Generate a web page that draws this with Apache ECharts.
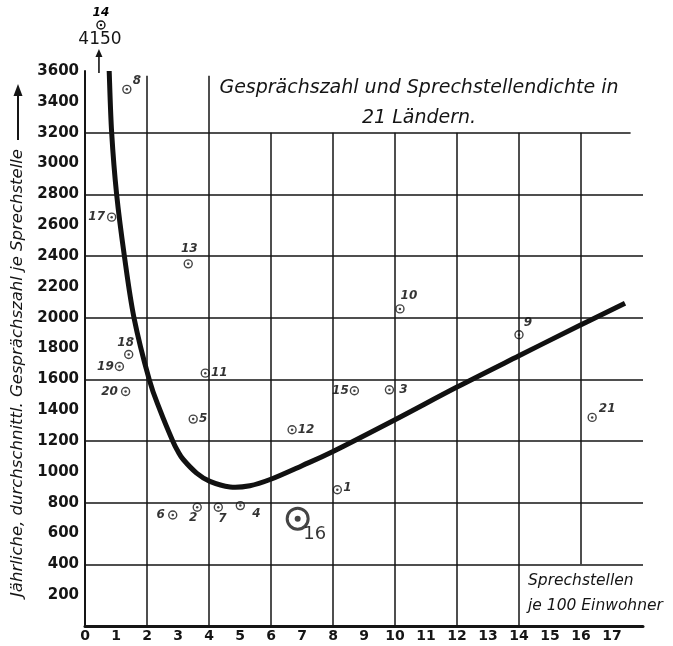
<!DOCTYPE html>
<html>
<head>
<meta charset="utf-8">
<script src="https://cdn.jsdelivr.net/npm/echarts@6/dist/echarts.min.js"></script>
<style>
html, body { margin: 0; padding: 0; background: #fff; }
#main { width: 673px; height: 646px; }
</style>
</head>
<body>
<div id="main"></div>
<script>
// Land-Nr., Sprechstellen je 100 Einwohner, jährl. Gespräche je Sprechstelle
var landNr     = [1, 2, 3, 4, 5, 6, 7, 8, 9, 10, 11, 12, 13, 15, 16, 17, 18, 19, 20, 21];
var dichte     = [8.14, 3.62, 9.82, 5.01, 3.49, 2.83, 4.3, 1.35, 14, 10.16, 3.88, 6.68, 3.33, 8.69, 6.86, 0.86, 1.41, 1.11, 1.31, 16.36];
var gespraeche = [884, 770, 1532, 781, 1342, 720, 770, 3481, 1889, 2057, 1640, 1273, 2349, 1526, 696, 2652, 1761, 1683, 1521, 1353];

// Land 14 liegt oberhalb der Skala (4150)
var aussenNr = [14];
var aussenX  = [0.45];
var aussenY  = [4150];

// Ausgleichskurve
var kurveX = [0.78, 0.86, 1.02, 1.27, 1.58, 2.07, 2.42, 2.83, 3.0, 3.17, 3.6, 4.03, 4.68, 5.32, 5.97, 7, 8, 10, 12, 14, 16, 17.42];
var kurveY = [3600, 3200, 2800, 2400, 2000, 1600, 1400, 1200, 1132, 1080, 992, 938, 902, 910, 950, 1040, 1132, 1338, 1550, 1753, 1954, 2094];

// Achsen
var xMin = 0, xMax = 18, xStep = 1;
var yMin = 0, yMax = 3600, yStep = 200;
var hLinien = [400, 800, 1200, 1600, 2000, 2400, 2800, 3200];
var vLinien = [2, 4, 6, 8, 10, 12, 14, 16];

var INK = '#151515';

// wo die Nummer neben dem Kreis steht
var labelOffset = {
    1: [10, -2], 2: [-4, 11], 3: [14, 0], 4: [16, 8], 5: [10, 0], 6: [-12, 0], 7: [4, 12],
    8: [10, -8], 9: [9, -12], 10: [9, -13], 11: [14, 0], 12: [14, 0], 13: [1, -15],
    15: [-14, 0], 16: [17, 16], 17: [-15, 0], 18: [-3, -12], 19: [-14, 0], 20: [-16, 0], 21: [15, -9]
};

var chart = echarts.init(document.getElementById('main'));

var kreise = [], punkte = [];
for (var i = 0; i < landNr.length; i++) {
    var gross = landNr[i] === 16;
    kreise.push({
        name: String(landNr[i]),
        value: [dichte[i], gespraeche[i]],
        symbolSize: gross ? 21 : 8,
        itemStyle: { borderWidth: gross ? 3 : 1.4 },
        label: {
            offset: labelOffset[landNr[i]],
            fontSize: gross ? 18 : 12,
            fontStyle: gross ? 'normal' : 'italic',
            fontWeight: gross ? 'normal' : 'bold'
        }
    });
    punkte.push({ value: [dichte[i], gespraeche[i]], symbolSize: gross ? 6 : 2.5 });
}

var kurve = kurveX.map(function (x, i) { return [x, kurveY[i]]; });

// glatte Kurve (Catmull-Rom) durch die Stützpunkte, in Pixeln
function kurvenPfad(pts) {
    var d = 'M' + pts[0][0] + ' ' + pts[0][1];
    for (var k = 0; k < pts.length - 1; k++) {
        var p0 = pts[k - 1] || pts[k], p1 = pts[k], p2 = pts[k + 1], p3 = pts[k + 2] || p2;
        var c1x = p1[0] + (p2[0] - p0[0]) / 6, c1y = p1[1] + (p2[1] - p0[1]) / 6;
        var c2x = p2[0] - (p3[0] - p1[0]) / 6, c2y = p2[1] - (p3[1] - p1[1]) / 6;
        d += ' C' + c1x + ' ' + c1y + ' ' + c2x + ' ' + c2y + ' ' + p2[0] + ' ' + p2[1];
    }
    return d;
}

// Gitterlinien
var gitter = [];
hLinien.forEach(function (y) {
    gitter.push([{ coord: [xMin, y] }, { coord: [y === 3200 ? 17.6 : xMax, y] }]);
});
vLinien.forEach(function (x) {
    var von = x === 16 ? 400 : 0;
    var bis = x <= 4 ? 3570 : 3200;
    gitter.push([{ coord: [x, von] }, { coord: [x, bis] }]);
});

var option = {
    backgroundColor: '#fff',
    animation: false,
    grid: { left: 85, right: 30, top: 71, bottom: 20 },
    xAxis: {
        type: 'value', min: xMin, max: xMax, interval: xStep,
        axisLine: { show: true, lineStyle: { color: INK, width: 3 } },
        axisTick: { show: false },
        splitLine: { show: false },
        axisLabel: {
            color: INK, fontSize: 14, fontWeight: 'bold', fontFamily: 'DejaVu Sans', margin: 3,
            formatter: function (v) { return v === xMax ? '' : v; }
        }
    },
    yAxis: {
        type: 'value', min: yMin, max: yMax, interval: yStep,
        axisLine: { show: true, lineStyle: { color: INK, width: 2 } },
        axisTick: { show: false },
        splitLine: { show: false },
        axisLabel: {
            color: INK, fontSize: 15, fontWeight: 'bold', fontFamily: 'DejaVu Sans', margin: 6,
            formatter: function (v) { return v === 0 ? '' : v; }
        }
    },
    series: [
        {
            type: 'line', data: [], silent: true,
            markLine: {
                silent: true, symbol: ['none', 'none'], label: { show: false },
                lineStyle: { color: INK, width: 1.5, type: 'solid' },
                data: gitter
            }
        },
        {
            // Ausgleichskurve
            type: 'custom', z: 3, silent: true,
            data: [kurve[0]],
            renderItem: function (params, api) {
                var pts = kurve.map(function (p) { return api.coord(p); });
                return {
                    type: 'path',
                    shape: { pathData: kurvenPfad(pts) },
                    style: { fill: 'none', stroke: '#111', lineWidth: 5, lineCap: 'butt', lineJoin: 'round' }
                };
            }
        },
        {
            type: 'scatter', data: kreise, symbol: 'circle', z: 4,
            itemStyle: { color: '#fff', borderColor: INK },
            label: {
                show: true, position: 'inside', color: '#000', fontFamily: 'DejaVu Sans',
                formatter: '{b}'
            }
        },
        {
            type: 'scatter', data: punkte, symbol: 'circle', z: 5, silent: true,
            itemStyle: { color: INK }
        },
        {
            // Punkt außerhalb der Skala: Pfeil über der Achsenspitze
            type: 'custom', z: 6,
            data: aussenX.map(function (x, i) { return [x, aussenY[i], aussenNr[i]]; }),
            renderItem: function (params, api) {
                var p = api.coord([api.value(0), yMax]);
                var x = p[0], y = p[1];
                return {
                    type: 'group',
                    children: [
                        { type: 'line', shape: { x1: x, y1: y + 2, x2: x, y2: y - 16 }, style: { stroke: INK, lineWidth: 1.6 } },
                        { type: 'polygon', shape: { points: [[x - 3.5, y - 14], [x + 3.5, y - 14], [x, y - 22]] }, style: { fill: INK } },
                        { type: 'text', x: x + 1, y: y - 31, style: { text: String(api.value(1)), fill: INK, fontSize: 17, fontFamily: 'DejaVu Sans', align: 'center', verticalAlign: 'middle' } },
                        { type: 'circle', shape: { cx: x + 2, cy: y - 46, r: 4 }, style: { fill: '#fff', stroke: INK, lineWidth: 1.4 } },
                        { type: 'circle', shape: { cx: x + 2, cy: y - 46, r: 1.2 }, style: { fill: INK } },
                        { type: 'text', x: x + 2, y: y - 58, style: { text: String(api.value(2)), fill: '#000', fontSize: 12, fontWeight: 'bold', fontStyle: 'italic', fontFamily: 'DejaVu Sans', align: 'center', verticalAlign: 'middle' } }
                    ]
                };
            }
        }
    ],
    graphic: [
        {
            type: 'text', x: 419, y: 73,
            style: {
                text: 'Gesprächszahl und Sprechstellendichte in\n21 Ländern.',
                align: 'center', lineHeight: 30,
                fill: INK, fontSize: 19, fontStyle: 'italic', fontFamily: 'DejaVu Sans'
            }
        },
        {
            type: 'text', x: 18, y: 373, rotation: Math.PI / 2,
            style: {
                text: 'Jährliche, durchschnittl. Gesprächszahl je Sprechstelle',
                align: 'center', verticalAlign: 'middle',
                fill: INK, fontSize: 16.5, fontStyle: 'italic', fontFamily: 'DejaVu Sans'
            }
        },
        { type: 'line', shape: { x1: 18, y1: 140, x2: 18, y2: 92 }, style: { stroke: INK, lineWidth: 2 } },
        { type: 'polygon', shape: { points: [[13.5, 96], [22.5, 96], [18, 84]] }, style: { fill: INK } },
        {
            type: 'text', x: 528, y: 568,
            style: {
                text: 'Sprechstellen\nje 100 Einwohner', lineHeight: 25,
                fill: INK, fontSize: 15.5, fontStyle: 'italic', fontFamily: 'DejaVu Sans'
            }
        }
    ]
};

chart.setOption(option);
</script>
</body>
</html>
